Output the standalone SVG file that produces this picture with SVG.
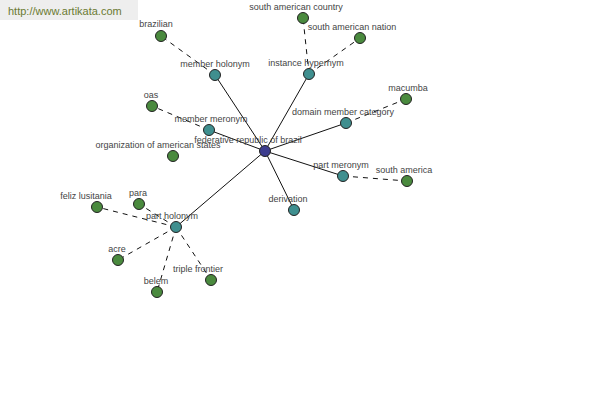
<svg xmlns="http://www.w3.org/2000/svg" width="600" height="400" viewBox="0 0 600 400">
<style>
text{font-family:"Liberation Sans",Arial,sans-serif;font-size:9px;fill:#444;text-anchor:middle}
.s{stroke:#111;stroke-width:1;fill:none}
.d{stroke:#111;stroke-width:1;fill:none;stroke-dasharray:5,5}
.c{fill:#3d3d8f;stroke:#222;stroke-width:1}
.t{fill:#3f8f8f;stroke:#222;stroke-width:1}
.g{fill:#4a8a3e;stroke:#222;stroke-width:1}
</style>
<rect x="0" y="0" width="600" height="400" fill="#fff"/>
<rect x="0" y="0" width="138" height="20" fill="#eeeeee"/>
<text x="8" y="15" style="text-anchor:start;font-size:11px;fill:#6b7a32">http://www.artikata.com</text>
<g id="connectors">
<line class="s" x1="265" y1="151" x2="215" y2="75"/>
<line class="s" x1="265" y1="151" x2="309" y2="74"/>
<line class="s" x1="265" y1="151" x2="209" y2="130"/>
<line class="s" x1="265" y1="151" x2="346" y2="123"/>
<line class="s" x1="265" y1="151" x2="343" y2="176"/>
<line class="s" x1="265" y1="151" x2="294" y2="210"/>
<line class="s" x1="265" y1="151" x2="176" y2="227"/>
<line class="d" x1="215" y1="75" x2="161" y2="36"/>
<line class="d" x1="309" y1="74" x2="303" y2="18"/>
<line class="d" x1="309" y1="74" x2="360" y2="38"/>
<line class="d" x1="346" y1="123" x2="406" y2="99"/>
<line class="d" x1="209" y1="130" x2="152" y2="106"/>
<line class="d" x1="343" y1="176" x2="407" y2="181"/>
<line class="d" x1="176" y1="227" x2="97" y2="207"/>
<line class="d" x1="176" y1="227" x2="139" y2="204"/>
<line class="d" x1="176" y1="227" x2="118" y2="260"/>
<line class="d" x1="176" y1="227" x2="157" y2="292"/>
<line class="d" x1="176" y1="227" x2="211" y2="280"/>
</g>
<g id="n-brazil"><circle class="c" cx="265" cy="151" r="5.5"/><text x="248" y="143">federative republic of brazil</text></g>
<g id="n-member-holonym"><circle class="t" cx="215" cy="75" r="5.5"/><text x="215" y="67">member holonym</text></g>
<g id="n-instance-hypernym"><circle class="t" cx="309" cy="74" r="5.5"/><text x="306" y="66">instance hypernym</text></g>
<g id="n-member-meronym"><circle class="t" cx="209" cy="130" r="5.5"/><text x="211" y="122">member meronym</text></g>
<g id="n-domain-member-category"><circle class="t" cx="346" cy="123" r="5.5"/><text x="343" y="115">domain member category</text></g>
<g id="n-part-meronym"><circle class="t" cx="343" cy="176" r="5.5"/><text x="341" y="168">part meronym</text></g>
<g id="n-derivation"><circle class="t" cx="294" cy="210" r="5.5"/><text x="288" y="202">derivation</text></g>
<g id="n-part-holonym"><circle class="t" cx="176" cy="227" r="5.5"/><text x="172" y="219">part holonym</text></g>
<g id="n-brazilian"><circle class="g" cx="161" cy="36" r="5.5"/><text x="156" y="27">brazilian</text></g>
<g id="n-south-american-country"><circle class="g" cx="303" cy="18" r="5.5"/><text x="296" y="10">south american country</text></g>
<g id="n-south-american-nation"><circle class="g" cx="360" cy="38" r="5.5"/><text x="352" y="30">south american nation</text></g>
<g id="n-macumba"><circle class="g" cx="406" cy="99" r="5.5"/><text x="408" y="91">macumba</text></g>
<g id="n-oas"><circle class="g" cx="152" cy="106" r="5.5"/><text x="151" y="98">oas</text></g>
<g id="n-oas-full"><circle class="g" cx="173" cy="156" r="5.5"/><text x="158" y="148">organization of american states</text></g>
<g id="n-south-america"><circle class="g" cx="407" cy="181" r="5.5"/><text x="404" y="173">south america</text></g>
<g id="n-feliz-lusitania"><circle class="g" cx="97" cy="207" r="5.5"/><text x="86" y="199">feliz lusitania</text></g>
<g id="n-para"><circle class="g" cx="139" cy="204" r="5.5"/><text x="138" y="196">para</text></g>
<g id="n-acre"><circle class="g" cx="118" cy="260" r="5.5"/><text x="117" y="252">acre</text></g>
<g id="n-belem"><circle class="g" cx="157" cy="292" r="5.5"/><text x="156" y="284">belem</text></g>
<g id="n-triple-frontier"><circle class="g" cx="211" cy="280" r="5.5"/><text x="198" y="272">triple frontier</text></g>
</svg>
